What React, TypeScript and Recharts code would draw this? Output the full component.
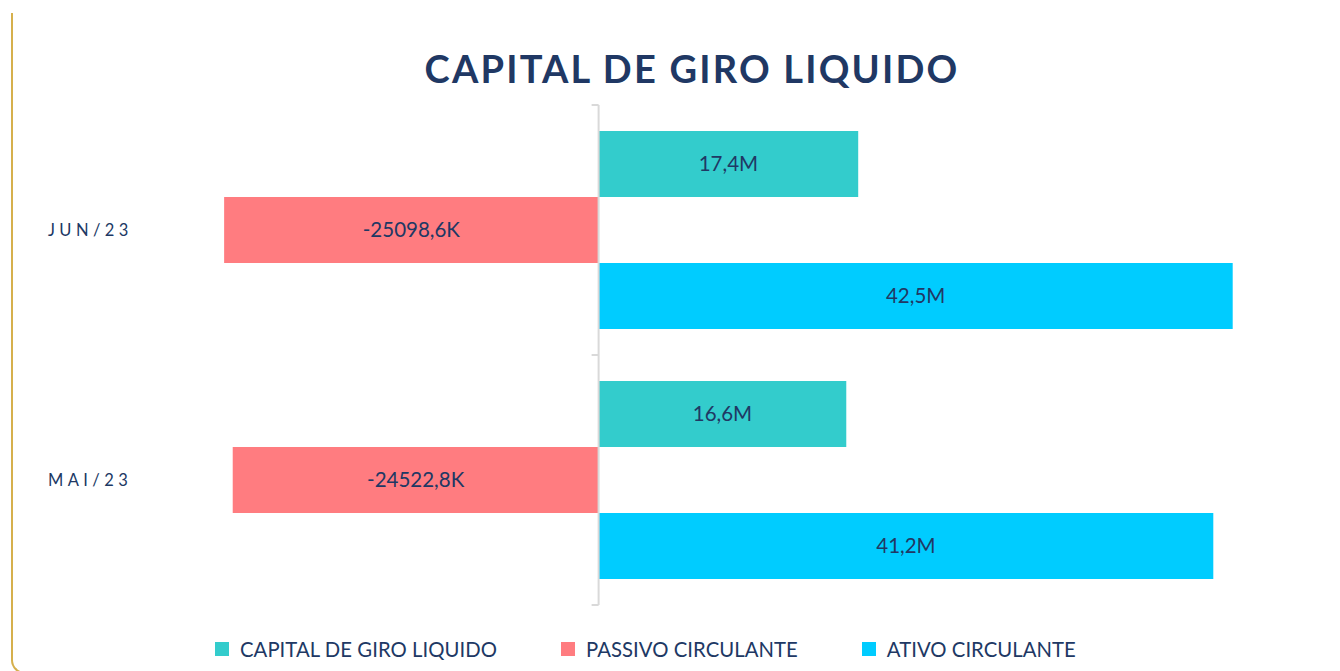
import { BarChart, Bar, XAxis, YAxis, ReferenceLine, LabelList } from 'recharts';

const months = ['JUN/23', 'MAI/23'];
const capitalGiro = [17.4, 16.6]; // M
const passivoCirc = [-25098.6, -24522.8]; // K
const ativoCirc = [42.5, 41.2]; // M

const seriesNames = ['CAPITAL DE GIRO LIQUIDO', 'PASSIVO CIRCULANTE', 'ATIVO CIRCULANTE'];
const seriesColors = ['#33CCCC', '#FF7C80', '#00CCFF'];

const data = months.map((m, i) => ({
  month: m,
  capital: capitalGiro[i],
  passivo: passivoCirc[i] / 1000,
  ativo: ativoCirc[i],
}));

const NAVY = '#203864';
const FONT = 'Lato, "Open Sans", sans-serif';

const fmtM = (v: any) => String(Number(v).toFixed(1)).replace('.', ',') + 'M';
const fmtK = (v: any) => String((Number(v) * 1000).toFixed(1)).replace('.', ',') + 'K';

function AxisWithTicks(props: any) {
  const { x1, y1, x2, y2 } = props;
  const mid = (y1 + y2) / 2;
  return (
    <g stroke="#D9D9D9" strokeWidth={2} fill="none">
      <line x1={x1} y1={y1} x2={x2} y2={y2} />
      {[y1, mid, y2].map((y: number, i: number) => (
        <line key={i} x1={x1 - 7} y1={y} x2={x1} y2={y} />
      ))}
    </g>
  );
}

function MonthTick(props: any) {
  const { y, payload } = props;
  return (
    <text x={48} y={y} dy={6} textAnchor="start" fill={NAVY} fontSize={16.5} letterSpacing={4.4} fontFamily={FONT}>
      {payload.value}
    </text>
  );
}

export default function App() {
  return (
    <div style={{ position: 'absolute', left: 0, top: 0, width: 1340, height: 671, background: '#fff', overflow: 'hidden', fontFamily: FONT }}>
      <div
        style={{
          position: 'absolute', left: 11, top: 13, width: 1400, height: 659,
          borderLeft: '2px solid #D6B04C', borderBottom: '2px solid #D6B04C',
          borderBottomLeftRadius: 14,
        }}
      />
      <div
        style={{
          position: 'absolute', left: 392, width: 600, top: 42, textAlign: 'center',
          fontSize: 38, fontWeight: 700, color: NAVY, letterSpacing: 2.2, lineHeight: '52px',
        }}
      >
        CAPITAL DE GIRO LIQUIDO
      </div>
      <div style={{ position: 'absolute', left: 0, top: 0 }}>
        <BarChart
          width={1340}
          height={671}
          data={data}
          layout="vertical"
          margin={{ top: 105, right: 70, bottom: 66, left: 0 }}
          barGap={0}
          barCategoryGap={26}
        >
          <XAxis type="number" domain={[-30, 45]} hide />
          <YAxis type="category" dataKey="month" width={151} axisLine={false} tickLine={false} tick={<MonthTick />} />
          <Bar dataKey="capital" name={seriesNames[0]} fill={seriesColors[0]} isAnimationActive={false}>
            <LabelList dataKey="capital" position="center" formatter={fmtM} fill={NAVY} fontSize={20.5} fontFamily={FONT} />
          </Bar>
          <Bar dataKey="passivo" name={seriesNames[1]} fill={seriesColors[1]} isAnimationActive={false}>
            <LabelList dataKey="passivo" position="center" formatter={fmtK} fill={NAVY} fontSize={20.5} fontFamily={FONT} />
          </Bar>
          <Bar dataKey="ativo" name={seriesNames[2]} fill={seriesColors[2]} isAnimationActive={false}>
            <LabelList dataKey="ativo" position="center" formatter={fmtM} fill={NAVY} fontSize={20.5} fontFamily={FONT} />
          </Bar>
          <ReferenceLine x={0} shape={<AxisWithTicks />} />
        </BarChart>
      </div>
      <div style={{ position: 'absolute', left: 215, top: 635, display: 'flex' }}>
        {seriesNames.map((n, i) => (
          <div key={n} style={{ display: 'flex', alignItems: 'center', marginRight: i < 2 ? 64 : 0 }}>
            <span style={{ width: 14, height: 14, background: seriesColors[i], display: 'inline-block', marginRight: 11 }} />
            <span style={{ fontSize: 20.3, color: NAVY, lineHeight: '28px', letterSpacing: 0.05 }}>{n}</span>
          </div>
        ))}
      </div>
    </div>
  );
}
